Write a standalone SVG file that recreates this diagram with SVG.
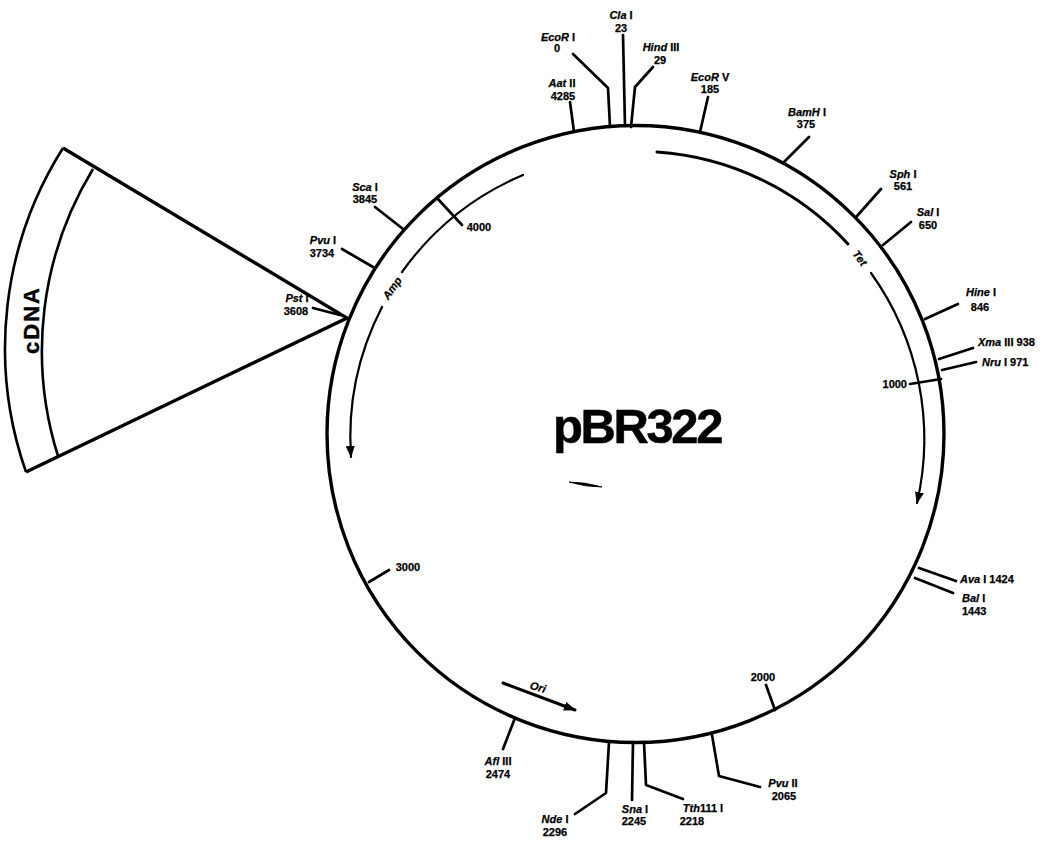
<svg xmlns="http://www.w3.org/2000/svg" width="1049" height="846" viewBox="0 0 1049 846">
<style>
.c{fill:none;stroke:#000;stroke-width:2.7;stroke-linecap:round;stroke-linejoin:round}
.a{fill:none;stroke:#000;stroke-width:2.6}
.t{stroke-width:2.2}
text{font-family:"Liberation Sans",Arial,sans-serif;font-size:11px;fill:#000;text-anchor:middle;font-weight:bold;stroke:#000;stroke-width:.25}
.i{font-style:italic}
.s{text-anchor:start}
</style>
<defs><marker id="ah" markerUnits="userSpaceOnUse" markerWidth="14" markerHeight="10" refX="11" refY="4.5" orient="auto"><path d="M0 0L12 4.5L0 9Z" fill="#000"/></marker></defs>
<rect width="1049" height="846" fill="#fff"/>
<g id="plasmid"><circle cx="635.5" cy="434" r="308.5" fill="none" stroke="#000" stroke-width="3.4"/></g>
<g id="cdna-insert">
<path class="a" style="stroke-width:3.4" d="M63 148L347 318L26 472"/>
<path class="a" d="M63 148A375 375 0 0 0 26 472"/>
<path class="a" d="M93 169A350 350 0 0 0 58 456"/>
<text transform="translate(39 320) rotate(-90)" style="font-size:22px;stroke-width:.4;letter-spacing:2px">cDNA</text>
</g>
<g id="connectors">
<path class="c" d="M610 127L608 88L573 54M625 126L623 35M631 127L635 87L653 67M700 132L708 97M574 132L570 102"/>
<path class="c" d="M783 163L809 137M857 216L881 189M883 245L911 222M925 319L958 304M939 359L973 348M942 370L976 362M910 384L941 379"/>
<path class="c" d="M919 568L956 581M915 578L953 593M609 742L606 793L575 814M633 742L632 800M644 742L646 785L683 799M712 735L719 776L760 787M515 718L503 749M775 710L766 685"/>
<path class="c" d="M403 229L375 207M373 267L342 249M340 315L313 308M437 198L462 225M369 582L389 570"/>
<path class="c t" style="stroke-width:3" d="M657 152A285 285 0 0 1 848 244"/>
<path class="c t" d="M871 273A285 285 0 0 1 917 503" marker-end="url(#ah)"/>
<path class="c t" d="M523 175A285 285 0 0 0 402 272"/>
<path class="c t" d="M382 307A285 285 0 0 0 351 457" marker-end="url(#ah)"/>
<path class="c" style="stroke-width:3" d="M503 683Q540 697 575 710" marker-end="url(#ah)"/>
</g>
<g id="labels">
<text x="558" y="41"><tspan class="i">EcoR</tspan> I</text><text x="557" y="52">0</text>
<text x="621" y="19"><tspan class="i">Cla</tspan> I</text><text x="621" y="32">23</text>
<text x="661" y="51"><tspan class="i">Hind</tspan> III</text><text x="660" y="64">29</text>
<text x="710" y="81"><tspan class="i">EcoR</tspan> V</text><text x="710" y="93">185</text>
<text x="562" y="87"><tspan class="i">Aat</tspan> II</text><text x="563" y="100">4285</text>
<text x="807" y="116"><tspan class="i">BamH</tspan> I</text><text x="806" y="128">375</text>
<text x="903" y="178"><tspan class="i">Sph</tspan> I</text><text x="903" y="190">561</text>
<text x="928" y="216"><tspan class="i">Sal</tspan> I</text><text x="928" y="229">650</text>
<text x="981" y="296"><tspan class="i">Hine</tspan> I</text><text x="980" y="311">846</text>
<text x="978" y="346" class="s"><tspan class="i">Xma</tspan> III 938</text>
<text x="982" y="366" class="s"><tspan class="i">Nru</tspan> I 971</text>
<text x="907" y="388" style="text-anchor:end">1000</text>
<text x="960" y="583" class="s"><tspan class="i">Ava</tspan> I 1424</text>
<text x="962" y="602" class="s"><tspan class="i">Bal</tspan> I</text><text x="962" y="615" class="s">1443</text>
<text x="783" y="787"><tspan class="i">Pvu</tspan> II</text><text x="784" y="800">2065</text>
<text x="763" y="681">2000</text>
<text x="498" y="765"><tspan class="i">Afl</tspan> III</text><text x="498" y="778">2474</text>
<text x="555" y="823"><tspan class="i">Nde</tspan> I</text><text x="555" y="836">2296</text>
<text x="635" y="813"><tspan class="i">Sna</tspan> I</text><text x="634" y="825">2245</text>
<text x="703" y="812"><tspan class="i">Tth</tspan>111 I</text><text x="692" y="825">2218</text>
<text class="i" x="538" y="691" transform="rotate(15 538 687)">Ori</text>
<text x="408" y="571">3000</text>
<text x="479" y="231">4000</text>
<text x="365" y="191"><tspan class="i">Sca</tspan> I</text><text x="365" y="203">3845</text>
<text x="323" y="244"><tspan class="i">Pvu</tspan> I</text><text x="322" y="257">3734</text>
<text x="297" y="302"><tspan class="i">Pst</tspan> I</text><text x="296" y="315">3608</text>
<text class="i" x="392" y="292" transform="rotate(-55 392 288)">Amp</text>
<text class="i" x="860" y="262" transform="rotate(52 860 258)">Tet</text>
<text x="637" y="443" style="font-size:49px;stroke-width:.5;letter-spacing:-2.4px">pBR322</text>
</g>
<g id="specks"><path d="M569 482Q585 482 602 487Q585 487 569 482Z" stroke="#000" stroke-width=".8" fill="#000"/></g>
</svg>
